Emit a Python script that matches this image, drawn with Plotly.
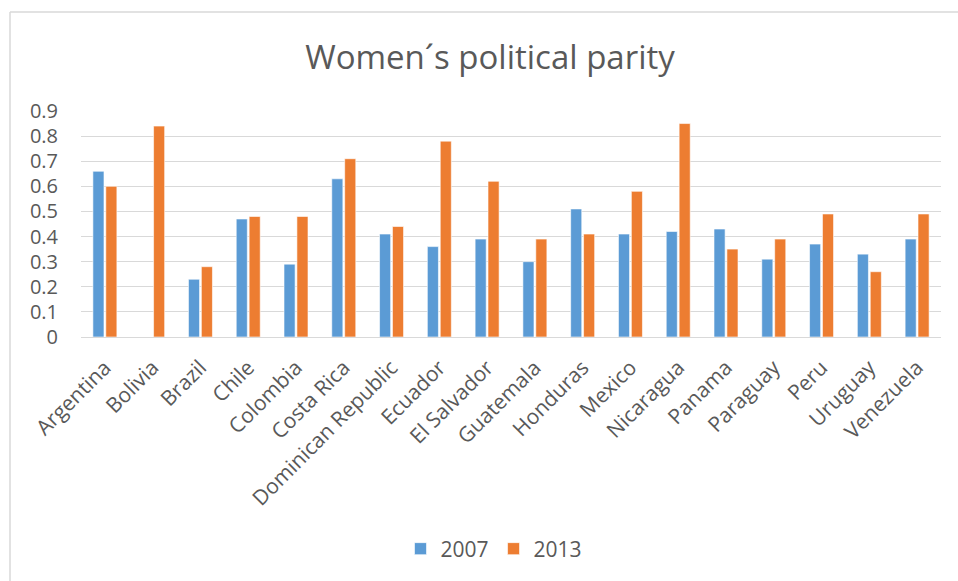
import plotly.graph_objects as go

# Women's political parity index by country
countries = ["Argentina", "Bolivia", "Brazil", "Chile", "Colombia", "Costa Rica",
             "Dominican Republic", "Ecuador", "El Salvador", "Guatemala", "Honduras",
             "Mexico", "Nicaragua", "Panama", "Paraguay", "Peru", "Uruguay", "Venezuela"]
parity_2007 = [0.66, None, 0.23, 0.47, 0.29, 0.63, 0.41, 0.36, 0.39, 0.30,
               0.51, 0.41, 0.42, 0.43, 0.31, 0.37, 0.33, 0.39]
parity_2013 = [0.60, 0.84, 0.28, 0.48, 0.48, 0.71, 0.44, 0.78, 0.62, 0.39,
               0.41, 0.58, 0.85, 0.35, 0.39, 0.49, 0.26, 0.49]
y_ticks = [0, 0.1, 0.2, 0.3, 0.4, 0.5, 0.6, 0.7, 0.8, 0.9]

W, H = 958, 581
ML, MR, MT, MB = 81, 17, 111, 244
PW, PH = W - ML - MR, H - MT - MB

def px_x(p):
    return (p - ML) / PW

def px_y(p):
    return (H - MB - p) / PH

FONT = "Open Sans"
TXT = "#595959"
GRID = "#d9d9d9"

fig = go.Figure()
fig.add_trace(go.Bar(x=countries, y=parity_2007, name="2007",
                     marker=dict(color="#5b9bd5", line=dict(color="white", width=0.6))))
fig.add_trace(go.Bar(x=countries, y=parity_2013, name="2013",
                     marker=dict(color="#ed7d31", line=dict(color="white", width=0.6))))

fig.update_layout(
    width=W, height=H,
    margin=dict(l=ML, r=MR, t=MT, b=MB),
    paper_bgcolor="white", plot_bgcolor="white",
    font=dict(family=FONT, color=TXT, size=20),
    barmode="group", bargap=0.46, bargroupgap=0.14,
    title=dict(text="Women´s political parity", x=px_x(490), xref="paper",
               xanchor="center", y=1 - 57 / H, yanchor="middle",
               font=dict(family=FONT, size=33, color=TXT)),
    legend=dict(orientation="h", x=px_x(494), xanchor="center",
                y=px_y(549), yanchor="middle", font=dict(size=21, color=TXT),
                itemwidth=30, traceorder="normal"),
    xaxis=dict(tickangle=-45, showgrid=False, showline=True, linecolor=GRID,
               linewidth=1, ticks="", ticklabelstandoff=9,
               tickfont=dict(size=21, color=TXT)),
    yaxis=dict(range=[0, 0.9], tickvals=y_ticks, ticktext=[f"{v:g}" for v in y_ticks],
               showgrid=True, gridcolor=GRID, gridwidth=1, zeroline=True,
               zerolinecolor=GRID, zerolinewidth=1, ticks="", ticklabelstandoff=22,
               tickfont=dict(size=20, color=TXT)),
    shapes=[
        dict(type="line", xref="paper", yref="paper",
             x0=px_x(10), x1=px_x(W + 5), y0=px_y(12), y1=px_y(12),
             line=dict(color="#d9d9d9", width=1.5)),
        dict(type="line", xref="paper", yref="paper",
             x0=px_x(10), x1=px_x(10), y0=px_y(12), y1=px_y(H + 5),
             line=dict(color="#d9d9d9", width=1.5)),
    ],
)

fig.write_html("out.html")
